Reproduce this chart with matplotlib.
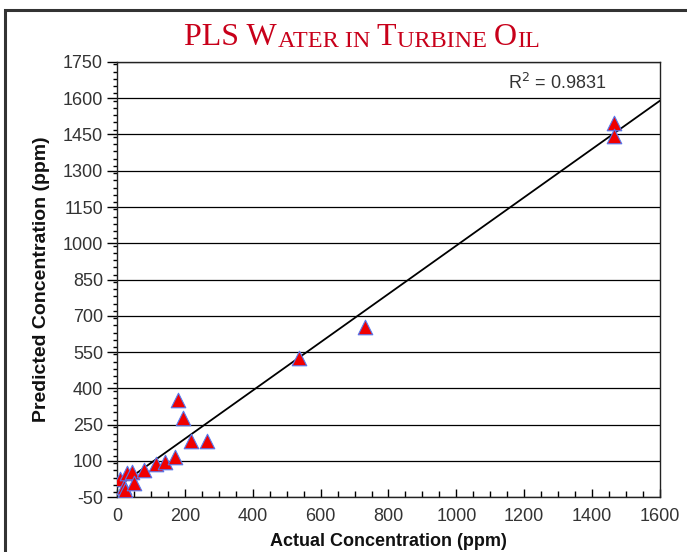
import numpy as np
import matplotlib.pyplot as plt
from matplotlib.patches import Rectangle
from matplotlib.ticker import MultipleLocator

plt.rcParams['axes.unicode_minus'] = False

# actual vs predicted water (ppm)
actual = [10, 20, 25, 30, 45, 50, 80, 115, 140, 172, 180, 194, 217, 265, 536, 731, 1465, 1465]
predicted = [25, -10, -20, 50, 55, 10, 60, 86, 95, 115, 351, 277, 182, 180, 525, 653, 1498, 1442]
r2_label = "R$^2$ = 0.9831"

xticks = np.arange(0, 1601, 200)
yticks = np.arange(-50, 1751, 150)

fig = plt.figure(figsize=(6.87, 5.52), dpi=100)
ax = fig.add_axes([0.1703, 0.0996, 0.7904, 0.7881])

# least squares fit line
slope, icpt = np.polyfit(actual, predicted, 1)
xl = np.array([0, 1600])
ax.plot(xl, slope * xl + icpt, color='black', lw=1.3, zorder=3)

ax.scatter(actual, predicted, marker='^', s=110, facecolor='#f00000',
           edgecolor='#5577ee', linewidth=0.8, zorder=4)

ax.set_xlim(0, 1600)
ax.set_ylim(-50, 1750)
ax.set_xticks(xticks)
ax.set_yticks(yticks)
ax.xaxis.set_minor_locator(MultipleLocator(50))
ax.yaxis.set_minor_locator(MultipleLocator(30))
ax.grid(axis='y', which='major', color='black', lw=0.9)
ax.set_axisbelow(True)
ax.tick_params(axis='x', which='major', direction='in', length=6, width=1, labelsize=13, pad=8)
ax.tick_params(axis='x', which='minor', direction='in', length=4, width=1)
ax.tick_params(axis='y', which='major', direction='out', length=7, width=1, labelsize=13, pad=3)
ax.tick_params(axis='y', which='minor', direction='out', length=3, width=1)
for lab in ax.get_xticklabels() + ax.get_yticklabels():
    lab.set_family('Liberation Sans')
    lab.set_color('#333333')
for sp in ax.spines.values():
    sp.set_color('#222222')
    sp.set_linewidth(1)

ax.set_xlabel('Actual Concentration (ppm)', fontsize=13, fontweight='bold',
              family='Liberation Sans', labelpad=6, color='#111111')
ax.set_ylabel('Predicted Concentration (ppm)', fontsize=14, fontweight='bold',
              family='Liberation Sans', labelpad=9, color='#111111')

ax.text(0.81, 0.952, r2_label, transform=ax.transAxes, ha='center', va='center',
        fontsize=13, family='Liberation Sans', color='#333333')

# title in small caps, built piece by piece
red = '#c8001a'
pieces = [("PLS W", 23), ("ATER IN ", 17.5), ("T", 23), ("URBINE ", 17.5), ("O", 23), ("IL", 17.5)]
prev = fig.text(0.268, 0.918, pieces[0][0], fontsize=pieces[0][1], color=red,
                family='Liberation Serif', va='baseline')
for txt, sz in pieces[1:]:
    prev = ax.annotate(txt, xy=(1, 0), xycoords=prev, xytext=(0.5, 0),
                       textcoords='offset points', fontsize=sz, color=red,
                       family='Liberation Serif', va='bottom', ha='left',
                       annotation_clip=False)

# outer frame of the figure (only left and top edges fall inside the image)
fig.patches.append(Rectangle((5 / 687, -0.5), 2.0, 1.5 - 10 / 552, transform=fig.transFigure,
                             fill=False, edgecolor='#333333', lw=2.2, clip_on=False))

fig.savefig('out.png', dpi=100)
